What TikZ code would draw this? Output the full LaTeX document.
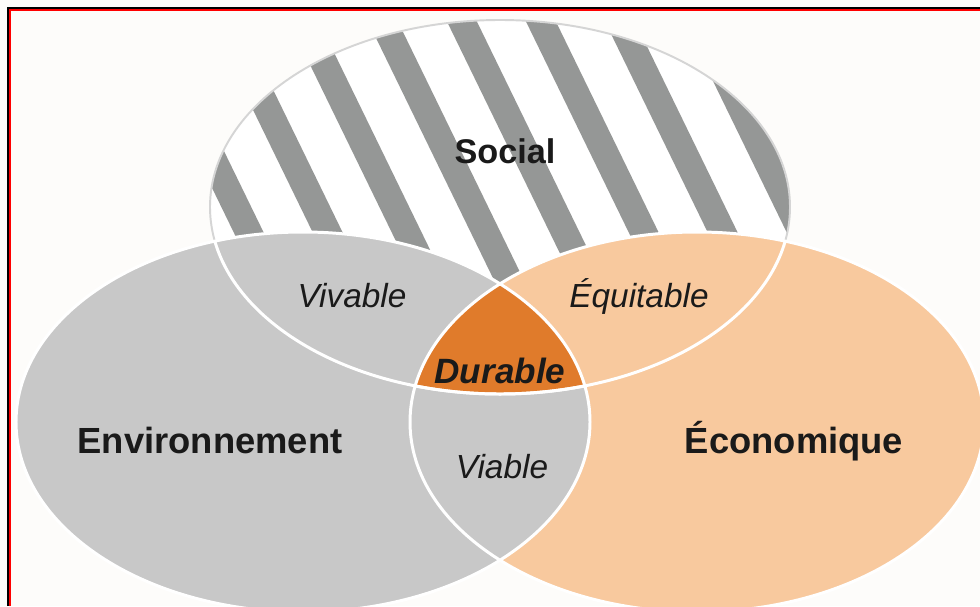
\documentclass[tikz,border=0pt]{standalone}
\usepackage{fontspec}
\setmainfont{Liberation Sans}
\usepackage{tikz}

\definecolor{paper}{HTML}{FDFCFA}
\definecolor{envgray}{HTML}{C8C8C8}
\definecolor{ecolight}{HTML}{F8C99E}
\definecolor{durorange}{HTML}{E07B2B}
\definecolor{stripegray}{HTML}{959796}
\definecolor{rimgray}{HTML}{D5D5D5}
\definecolor{txt}{HTML}{1A1A1A}

% Ellipses (pixel units)
\newcommand{\socialshape}{(500,207) ellipse [x radius=290, y radius=187]}
\newcommand{\envshape}{(303,422) ellipse [x radius=287, y radius=190]}
\newcommand{\ecoshape}{(697,422) ellipse [x radius=287, y radius=190]}

\begin{document}
\begin{tikzpicture}[x=0.02cm,y=-0.02cm]
% Styles
\tikzset{
    bigtxt/.style={inner sep=0pt, anchor=base, text=txt, font=\bfseries\fontsize{20.7}{24}\selectfont},
    midtxt/.style={inner sep=0pt, anchor=base, text=txt, font=\itshape\fontsize{19}{23}\selectfont},
    stripe/.style={stripegray, line width=15.3pt},
    seam/.style={white, line width=1.7pt}
}
\useasboundingbox (0,0) rectangle (980,606);
\fill[paper] (0,0) rectangle (980,606);
% Social ellipse with stripes
\fill[white] \socialshape;
\begin{scope}
\clip \socialshape;
\foreach \k in {-2,...,8}{
    \draw[stripe] ({247.5+79*\k-0.438*320},{230-0.899*320}) -- ({247.5+79*\k+0.438*320},{230+0.899*320});
}
\end{scope}
\draw[rimgray, line width=1.1pt] \socialshape;
% Economie and environnement
\fill[ecolight] \ecoshape;
\fill[envgray] \envshape;
% Centre
\begin{scope}
\clip \socialshape;
\clip \envshape;
\fill[durorange] \ecoshape;
\end{scope}
% Seams
\draw[seam] \envshape;
\draw[seam] \ecoshape;
\begin{scope}
\clip \envshape;
\draw[seam] \socialshape;
\end{scope}
\begin{scope}
\clip \ecoshape;
\draw[seam] \socialshape;
\end{scope}
% Labels
\node[bigtxt, font=\bfseries\fontsize{19.5}{23}\selectfont] (Soc) at (505,163) {Social};
\node[bigtxt] (Env) at (210,453) {Environnement};
\node[bigtxt] (Eco) at (794,453) {Économique};
\node[midtxt] (Viv) at (352,307) {Vivable};
\node[midtxt] (Equ) at (639,307) {Équitable};
\node[midtxt] (Via) at (502,478) {Viable};
\node[bigtxt, font=\bfseries\itshape\fontsize{20}{24}\selectfont] (Dur) at (500,383) {Durable};
% Frame
\draw[black, line width=0.75pt] (8,606) -- (8,8) -- (980,8);
\draw[red, line width=1.1pt] (10,606) -- (10,10) -- (980,10);
\end{tikzpicture}
\end{document}
